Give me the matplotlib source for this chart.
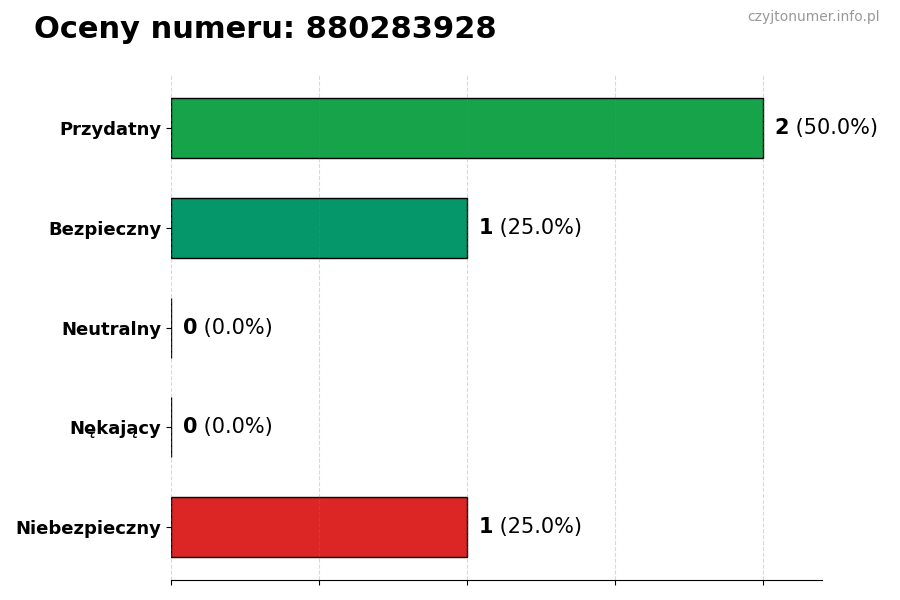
import matplotlib
matplotlib.use('Agg')
import matplotlib.pyplot as plt

# dane
categories = ['Przydatny', 'Bezpieczny', 'Neutralny', 'Nękający', 'Niebezpieczny']
counts = [2, 1, 0, 0, 1]
colors = ['#16a34a', '#059669', '#6b7280', '#f97316', '#dc2626']
phone = '880283928'

total = sum(counts)

fig = plt.figure(figsize=(9, 6), dpi=100)
ax = fig.add_axes([0.19, 0.033, 0.723, 0.842])

ypos = list(range(len(categories)))
ax.barh(ypos, counts, height=0.6, color=colors, edgecolor='black', linewidth=1, zorder=2)
ax.set_yticks(ypos)
ax.set_yticklabels(categories, fontsize=13, fontweight='bold')
ax.invert_yaxis()

ax.set_xlim(0, 2.2)
ax.set_xticks([0, 0.5, 1, 1.5, 2])
ax.set_xticklabels([])
ax.xaxis.grid(True, linestyle='--', color='gray', alpha=0.3, linewidth=0.8, zorder=3)
ax.set_axisbelow(False)

for s in ['top', 'right', 'left']:
    ax.spines[s].set_visible(False)

# etykiety przy słupkach
for y, c in zip(ypos, counts):
    pct = c / total * 100
    t = ax.text(c + 0.04, y, str(c), fontsize=15, fontweight='bold', va='center', ha='left')
    ax.annotate(f' ({pct:.1f}%)', xycoords=t, xy=(1, 0.5), va='center', ha='left', fontsize=15)

fig.text(0.038, 0.95, f'Oceny numeru: {phone}', fontsize=22, fontweight='bold', va='center', ha='left')
fig.text(0.978, 0.972, 'czyjtonumer.info.pl', fontsize=10, color='#999999', va='center', ha='right')

fig.savefig('out.png', dpi=100)
